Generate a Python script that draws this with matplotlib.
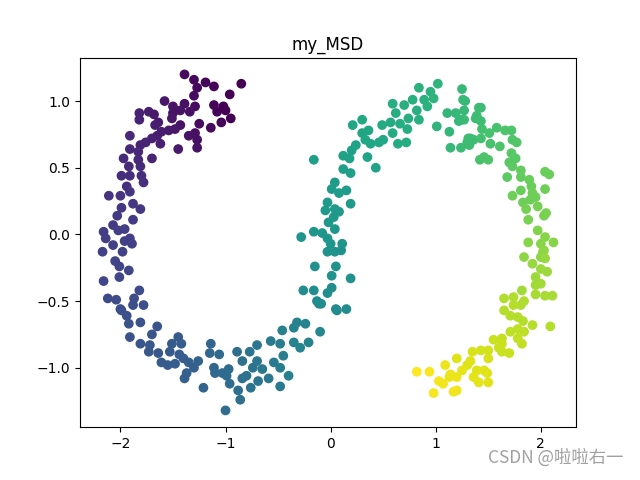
import numpy as np
import matplotlib
matplotlib.use('Agg')
import matplotlib.pyplot as plt

# upper-left arc (dark purple)
arc1_x = [-1.39, -1.30, -1.19, -1.11, -1.27, -0.85, -0.96, -1.30, -1.58, -1.50,
          -1.39, -1.29, -1.11, -1.02, -1.08, -1.00, -0.95, -1.04, -1.14, -1.25,
          -1.34, -1.43, -1.50, -1.51, -1.82, -1.73, -1.68, -1.82, -1.64, -1.67,
          -1.43, -1.48, -1.54, -1.61, -1.65, -1.70, -1.76, -1.81, -1.91, -1.35,
          -1.29, -1.27, -1.27, -1.45, -1.62, -1.70, -1.91, -1.83, -1.97, -1.83,
          -1.92, -1.81, -1.99, -1.91, -1.80, -1.78, -1.94]
arc1_y = [1.20, 1.16, 1.14, 1.11, 1.10, 1.13, 1.05, 1.04, 1.00, 0.96,
          0.98, 0.96, 0.97, 0.96, 0.92, 0.93, 0.87, 0.84, 0.80, 0.83,
          0.92, 0.93, 0.91, 0.87, 0.91, 0.92, 0.90, 0.86, 0.84, 0.82,
          0.82, 0.79, 0.78, 0.77, 0.74, 0.72, 0.69, 0.67, 0.74, 0.74,
          0.76, 0.71, 0.65, 0.64, 0.68, 0.57, 0.64, 0.62, 0.57, 0.56,
          0.51, 0.51, 0.44, 0.44, 0.44, 0.39, 0.36]
arc1_c = [0.03, 0.02, 0.01, 0.01, 0.02, 0.00, 0.00, 0.03, 0.06, 0.05,
          0.04, 0.03, 0.01, 0.00, 0.01, 0.00, 0.00, 0.01, 0.02, 0.03,
          0.04, 0.05, 0.05, 0.06, 0.09, 0.08, 0.07, 0.09, 0.07, 0.08,
          0.05, 0.06, 0.07, 0.08, 0.08, 0.09, 0.10, 0.10, 0.11, 0.05,
          0.04, 0.04, 0.05, 0.07, 0.09, 0.10, 0.11, 0.11, 0.12, 0.11,
          0.12, 0.12, 0.13, 0.13, 0.13, 0.14, 0.14]

# left side
left_x = [-2.11, -2.00, -1.91, -1.88, -1.81, -1.99, -2.03, -1.88, -2.16, -2.07,
          -2.02, -1.96, -2.14, -2.07, -1.96, -1.91, -1.89, -1.98, -2.17, -2.05,
          -2.01, -1.92, -2.01, -2.16, -1.82, -2.12, -2.04, -1.87, -1.78, -2.00,
          -1.88]
left_y = [0.29, 0.29, 0.32, 0.23, 0.19, 0.20, 0.14, 0.11, 0.02, 0.07,
          0.03, 0.04, -0.03, -0.08, -0.05, -0.03, -0.07, -0.13, -0.13, -0.20,
          -0.24, -0.27, -0.32, -0.35, -0.42, -0.48, -0.49, -0.48, -0.53, -0.56,
          -0.53]
left_c = [0.15, 0.15, 0.15, 0.16, 0.16, 0.16, 0.17, 0.17, 0.18, 0.17,
          0.18, 0.18, 0.18, 0.19, 0.19, 0.18, 0.19, 0.19, 0.19, 0.20,
          0.20, 0.21, 0.21, 0.21, 0.23, 0.22, 0.23, 0.23, 0.24, 0.23,
          0.24]

# bottom of first arc
bottom_x = [-1.99, -1.94, -1.92, -1.81, -1.65, -1.70, -1.91, -1.81, -1.72, -1.73,
            -1.64, -1.51, -1.45, -1.42, -1.53, -1.44, -1.61, -1.55, -1.48, -1.40,
            -1.35, -1.26, -1.30, -1.37, -1.39, -1.21, -1.14, -1.15, -1.06, -1.11,
            -1.10, -1.03, -0.97, -0.99, -0.96, -0.88, -0.86, -1.00, -0.89, -0.84,
            -0.77, -0.84, -0.80, -0.76, -0.74, -0.70, -0.70, -0.65, -0.69, -0.59,
            -0.57, -0.54, -0.48, -0.48, -0.40, -0.48, -0.45, -0.46, -0.35, -0.35,
            -0.29, -0.24, -0.21, -0.10, -0.11, 0.06, -0.32]
bottom_y = [-0.57, -0.61, -0.67, -0.66, -0.69, -0.75, -0.77, -0.82, -0.83, -0.88,
            -0.89, -0.82, -0.77, -0.82, -0.88, -0.90, -0.96, -0.98, -0.97, -0.93,
            -0.96, -0.95, -1.00, -1.04, -1.08, -1.15, -0.82, -0.89, -0.90, -1.00,
            -1.04, -1.04, -1.01, -1.06, -1.12, -1.17, -1.24, -1.32, -0.88, -0.95,
            -0.88, -1.08, -1.06, -1.15, -1.00, -0.95, -0.83, -1.01, -1.10, -1.08,
            -0.80, -0.96, -1.00, -1.14, -1.06, -0.82, -0.91, -0.72, -0.70, -0.81,
            -0.85, -0.67, -0.81, -0.73, -0.52, -0.57, -0.66]
bottom_c = [0.24, 0.24, 0.25, 0.25, 0.26, 0.26, 0.25, 0.26, 0.27, 0.27,
            0.27, 0.28, 0.28, 0.29, 0.28, 0.29, 0.28, 0.28, 0.29, 0.29,
            0.30, 0.31, 0.30, 0.30, 0.30, 0.32, 0.32, 0.33, 0.34, 0.33,
            0.33, 0.34, 0.35, 0.35, 0.35, 0.36, 0.36, 0.35, 0.36, 0.37,
            0.38, 0.37, 0.37, 0.38, 0.38, 0.39, 0.39, 0.40, 0.39, 0.40,
            0.41, 0.41, 0.42, 0.41, 0.43, 0.42, 0.42, 0.43, 0.44, 0.44,
            0.45, 0.45, 0.45, 0.46, 0.47, 0.48, 0.44]

# middle riser
mid_x = [0.04, 0.01, 0.08, 0.15, 0.19, -0.03, -0.05, 0.04, 0.08, 0.03,
         -0.02, 0.04, -0.16, -0.08, -0.28, -0.03, 0.00, 0.11, -0.03, 0.04,
         0.10, -0.15, 0.05, 0.01, 0.19, -0.26, -0.16, 0.01, -0.03, -0.13,
         -0.09, 0.05, 0.15]
mid_y = [0.39, 0.34, 0.31, 0.33, 0.23, 0.24, 0.18, 0.19, 0.17, 0.13,
         0.09, 0.04, 0.02, 0.01, -0.02, -0.03, -0.07, -0.07, -0.13, -0.13,
         -0.12, -0.24, -0.24, -0.31, -0.33, -0.42, -0.42, -0.40, -0.44, -0.50,
         -0.52, -0.56, -0.56]
mid_c = [0.55, 0.55, 0.55, 0.55, 0.54, 0.54, 0.54, 0.54, 0.54, 0.53,
         0.53, 0.53, 0.52, 0.52, 0.52, 0.52, 0.52, 0.52, 0.51, 0.51,
         0.51, 0.50, 0.50, 0.50, 0.50, 0.49, 0.49, 0.49, 0.49, 0.48,
         0.48, 0.48, 0.48]

# upper arc (green)
top_x = [-0.16, 0.12, 0.20, 0.18, 0.35, 0.43, 0.12, 0.19, 0.24, 0.30,
         0.36, 0.33, 0.38, 0.46, 0.50, 0.21, 0.30, 0.49, 0.57, 0.59,
         0.59, 0.64, 0.72, 0.62, 0.66, 0.70, 0.73, 0.74, 0.78, 0.82,
         0.84, 0.84, 0.89, 0.92, 0.95, 0.98, 1.02, 1.01, 1.11, 1.19,
         1.13, 1.25, 1.26, 1.27, 1.24, 1.33, 1.14, 1.24, 1.30, 1.41,
         1.42, 1.38]
top_y = [0.56, 0.59, 0.63, 0.57, 0.58, 0.50, 0.49, 0.46, 0.67, 0.76,
         0.78, 0.71, 0.68, 0.69, 0.71, 0.82, 0.86, 0.82, 0.84, 0.98,
         0.76, 0.68, 0.69, 0.91, 0.83, 0.97, 0.79, 0.87, 1.01, 0.93,
         0.86, 1.10, 1.01, 0.96, 1.07, 1.02, 1.13, 0.81, 0.91, 0.91,
         0.77, 1.09, 1.01, 0.93, 0.86, 0.72, 0.65, 0.65, 0.69, 0.95,
         0.56, 0.87]
top_c = [0.56, 0.57, 0.57, 0.57, 0.58, 0.58, 0.56, 0.56, 0.58, 0.59,
         0.59, 0.59, 0.59, 0.60, 0.60, 0.59, 0.60, 0.61, 0.61, 0.62,
         0.61, 0.61, 0.62, 0.62, 0.62, 0.63, 0.62, 0.63, 0.63, 0.63,
         0.63, 0.64, 0.64, 0.64, 0.64, 0.65, 0.65, 0.65, 0.66, 0.67,
         0.66, 0.67, 0.67, 0.67, 0.67, 0.69, 0.67, 0.68, 0.68, 0.68,
         0.71, 0.69]

# right side
right_x = [1.28, 1.27, 1.22, 1.39, 1.43, 1.43, 1.44, 1.31, 1.36, 1.43,
           1.51, 1.58, 1.66, 1.72, 1.73, 1.77, 1.52, 1.61, 1.32, 1.46,
           1.50, 1.72, 1.76, 1.70, 1.73, 1.68, 1.81, 1.81, 1.89, 1.91,
           2.04, 2.08, 2.04, 1.81, 1.73, 1.83, 1.90, 1.95, 1.92, 1.97,
           1.86, 1.88, 2.03, 2.05, 1.97, 2.04, 1.88, 2.00, 2.12, 2.03,
           1.84, 2.00]
right_y = [1.00, 0.86, 0.85, 0.89, 0.95, 0.85, 0.79, 0.72, 0.71, 0.72,
           0.76, 0.80, 0.78, 0.78, 0.71, 0.69, 0.68, 0.66, 0.67, 0.58,
           0.56, 0.61, 0.57, 0.54, 0.51, 0.43, 0.48, 0.43, 0.41, 0.36,
           0.47, 0.45, 0.34, 0.33, 0.29, 0.24, 0.26, 0.28, 0.31, 0.21,
           0.19, 0.11, 0.14, 0.16, 0.03, -0.02, -0.06, -0.07, -0.06, -0.12,
           -0.17, -0.17]
right_c = [0.67, 0.68, 0.67, 0.69, 0.69, 0.69, 0.70, 0.69, 0.69, 0.70,
           0.71, 0.71, 0.72, 0.72, 0.73, 0.73, 0.71, 0.72, 0.69, 0.72,
           0.72, 0.74, 0.74, 0.74, 0.75, 0.75, 0.76, 0.76, 0.77, 0.77,
           0.77, 0.77, 0.78, 0.77, 0.78, 0.78, 0.78, 0.78, 0.78, 0.79,
           0.79, 0.80, 0.80, 0.80, 0.81, 0.82, 0.82, 0.82, 0.82, 0.83,
           0.83, 0.83]

# lower-right end (yellow)
end_x = [1.92, 2.02, 2.04, 2.00, 2.06, 1.95, 2.00, 1.95, 1.95, 2.04,
         2.11, 1.82, 1.65, 1.74, 1.84, 1.81, 1.74, 1.65, 1.71, 1.78,
         1.83, 1.92, 2.09, 1.71, 1.78, 1.84, 1.78, 1.82, 1.55, 1.63,
         1.63, 1.60, 1.63, 1.70, 1.50, 1.43, 1.35, 1.50, 1.33, 1.20,
         1.30, 1.09, 1.14, 1.25, 1.39, 1.46, 1.49, 1.36, 1.41, 1.50,
         1.20, 1.13, 0.82, 0.94, 1.03, 1.07, 0.98, 1.17, 1.20]
end_y = [-0.22, -0.13, -0.18, -0.26, -0.28, -0.32, -0.37, -0.38, -0.45, -0.46,
         -0.46, -0.42, -0.48, -0.47, -0.50, -0.53, -0.53, -0.57, -0.61, -0.62,
         -0.65, -0.68, -0.69, -0.73, -0.71, -0.73, -0.78, -0.82, -0.79, -0.78,
         -0.82, -0.85, -0.88, -0.89, -0.87, -0.87, -0.88, -0.93, -0.95, -0.93,
         -0.98, -0.98, -1.05, -1.02, -1.02, -1.02, -1.04, -1.07, -1.11, -1.11,
         -1.07, -1.07, -1.03, -1.03, -1.10, -1.12, -1.19, -1.18, -1.17]
end_c = [0.84, 0.83, 0.84, 0.85, 0.85, 0.85, 0.86, 0.86, 0.87, 0.87,
         0.87, 0.86, 0.88, 0.88, 0.88, 0.88, 0.89, 0.89, 0.89, 0.89,
         0.89, 0.89, 0.89, 0.90, 0.90, 0.90, 0.91, 0.91, 0.92, 0.91,
         0.92, 0.92, 0.92, 0.92, 0.93, 0.93, 0.94, 0.94, 0.95, 0.95,
         0.95, 0.97, 0.97, 0.96, 0.95, 0.95, 0.95, 0.96, 0.96, 0.95,
         0.97, 0.97, 1.00, 0.99, 0.99, 0.98, 0.99, 0.98, 0.98]

x = np.concatenate([arc1_x, left_x, bottom_x, mid_x, top_x, right_x, end_x])
y = np.concatenate([arc1_y, left_y, bottom_y, mid_y, top_y, right_y, end_y])
c = np.concatenate([arc1_c, left_c, bottom_c, mid_c, top_c, right_c, end_c])

fig = plt.figure(figsize=(6.4, 4.8), dpi=100)
plt.scatter(x, y, c=c, cmap='viridis')
plt.title('my_MSD')

fig.text(0.762, 0.036, 'CSDN @啦啦右一', fontsize=12.5, color='#a0a0a0',
         family=['Noto Sans CJK SC', 'DejaVu Sans'])

plt.savefig('out.png')
